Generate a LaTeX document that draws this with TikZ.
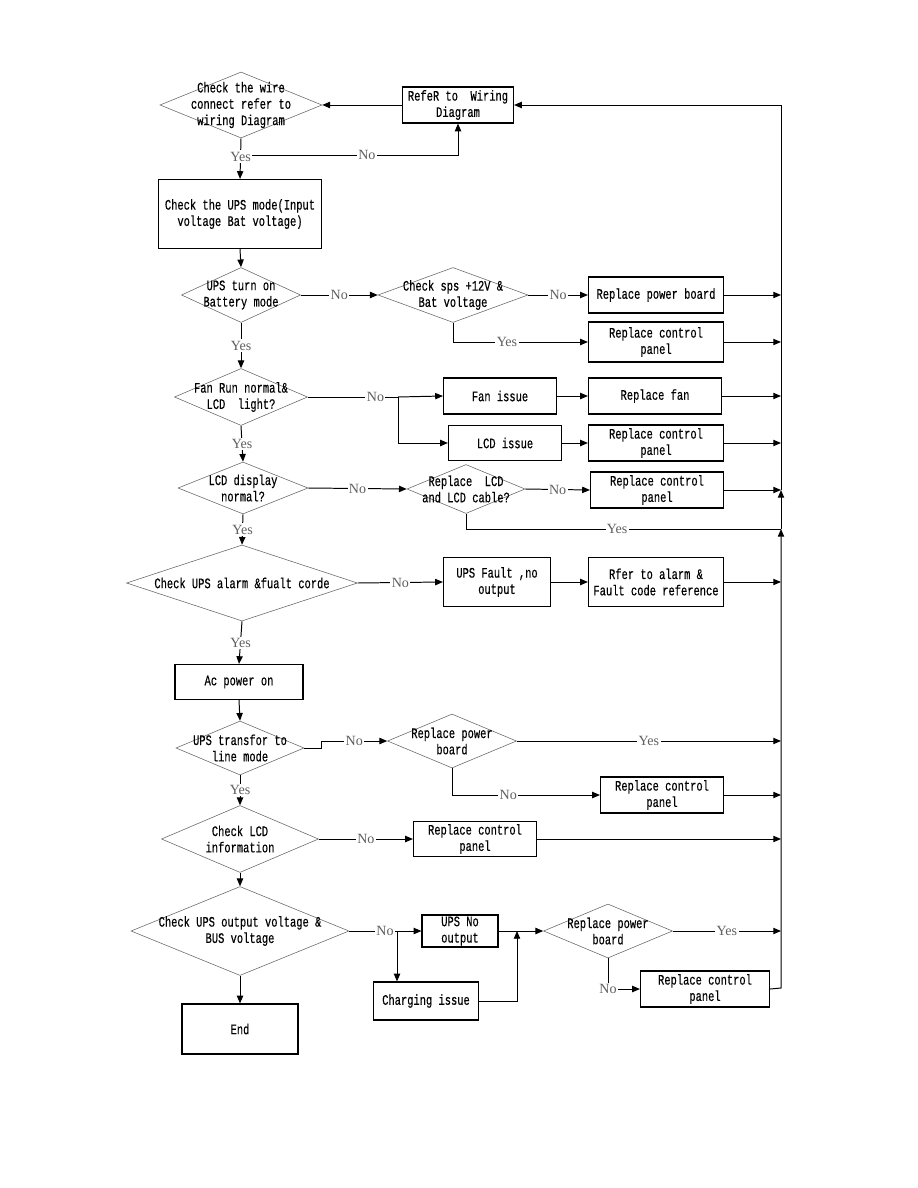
\documentclass[tikz,border=0pt]{standalone}
\usepackage{fontspec}
\setmainfont{Liberation Mono}[FakeStretch=0.72, FakeBold=0.4]
\newfontfamily\ynfont{Liberation Serif}
\usetikzlibrary{shapes.geometric,arrows.meta}
\newcommand{\boxfont}{\fontsize{10.3}{11.6}\selectfont}

\begin{document}
\begin{tikzpicture}[x=0.025cm, y=-0.025cm,
    box/.style 2 args={rectangle, draw, line width=0.8pt, align=center, inner sep=0pt,
                minimum width=#1*0.025cm, minimum height=#2*0.025cm, font=\boxfont},
    dec/.style 2 args={diamond, draw=gray!80!black, line width=0.4pt, inner sep=0pt,
                minimum width=#1*0.025cm, minimum height=#2*0.025cm},
    dtxt/.style={align=center, inner sep=0pt, font=\boxfont},
    arrow/.style={-{Triangle[length=5.5pt,width=4.5pt]}, line width=0.7pt},
    line/.style={line width=0.7pt},
    yn/.style={fill=white, inner sep=1pt, text=gray!75!black, font=\ynfont\fontsize{10}{12}\selectfont}
]
\useasboundingbox (0,0) rectangle (918,1188);

\node[dec={162}{66}, label={[dtxt]center:{Check the wire\\connect refer to\\wiring Diagram}}] (chkwire) at (241,105) {};
\node[box={111}{36}] (wire) at (458,105) {RefeR to\ \ Wiring\\Diagram};
\node[box={163}{69}] (mode) at (240,214) {Check the UPS mode(Input\\voltage Bat voltage)};

\node[dec={119}{55}, label={[dtxt]center:{UPS turn on\\Battery mode}}] (batt) at (241,295) {};
\node[dec={150}{55}, label={[dtxt]center:{Check sps +12V \&\\Bat voltage}}] (sps) at (453,295) {};
\node[box={135}{36}] (pwrA) at (656,295) {Replace power board};
\node[box={135}{40}] (ctlA) at (656,342) {Replace control\\panel};

\node[dec={133}{57}, label={[dtxt]center:{Fan Run normal\&\\LCD\ \ light?}}] (fan) at (241,397) {};
\node[box={113}{36}] (fanis) at (500,396) {Fan issue};
\node[box={113}{35}] (lcdis) at (505,443) {LCD issue};
\node[box={133}{36}] (rfan) at (655,396) {Replace fan};
\node[box={135}{36}] (ctlB) at (656,443) {Replace control\\panel};

\node[dec={130}{52}, label={[dtxt]center:{LCD display\\normal?}}] (lcd) at (243,488) {};
\node[dec={118}{49}, label={[dtxt]center:{Replace\ \ LCD\\and LCD cable?}}] (lcdc) at (466,489) {};
\node[box={133}{36}] (ctlC) at (657,490) {Replace control\\panel};

\node[dec={231}{76}, label={[dtxt]center:{Check UPS alarm \&fualt corde}}] (alarm) at (242,583) {};
\node[box={107}{49}] (fault) at (497,582) {UPS Fault ,no\\output};
\node[box={135}{49}] (code) at (656,582) {Rfer to alarm \&\\Fault code reference};

\node[box={128}{35}] (acon) at (239,682) {Ac power on};

\node[dec={128}{54}, label={[dtxt]center:{UPS transfor to\\line mode}}] (linem) at (240,748) {};
\node[dec={129}{54}, label={[dtxt]center:{Replace power\\board}}] (pwrB) at (452,741) {};
\node[box={123}{36}] (ctlD) at (662,795) {Replace control\\panel};

\node[dec={157}{67}, label={[dtxt]center:{Check LCD\\information}}] (info) at (240,839) {};
\node[box={123}{35}] (ctlE) at (475,839) {Replace control\\panel};

\node[dec={218}{89}, label={[dtxt]center:{Check UPS output voltage \&\\BUS voltage}}] (outv) at (240,931) {};
\node[box={76}{32}] (noout) at (460,931) {UPS No\\output};
\node[box={105}{38}] (charge) at (426,1001) {Charging issue};
\node[dec={129}{54}, label={[dtxt]center:{Replace power\\board}}] (pwrC) at (608,931) {};
\node[box={129}{36}] (ctlF) at (705,989) {Replace control\\panel};
\node[box={116}{50}] (endb) at (240,1029) {End};

\coordinate (wyes) at (241,155);
\coordinate (fansplit) at (398,397);
\coordinate (outsplit) at (397,931);
\coordinate (merge) at (517,931);
\coordinate (bustop) at (781,105);
\coordinate (busbot) at (781,988);
\coordinate (busyes) at (781,529);
\coordinate (buslcd) at (781,490);

\draw[arrow] (wire.west) -- (chkwire.east);
\draw[arrow] (wyes) -- node[yn, pos=0.58]{No} (wyes -| wire.south) -- (wire.south);
\draw[arrow] (chkwire.south) -- node[yn, pos=0.45]{Yes} (mode.north);
\draw[arrow] (mode.south) -- (batt.north);

\draw[arrow] (batt.east) -- node[yn]{No} (sps.west);
\draw[arrow] (sps.east) -- node[yn]{No} (pwrA.west);
\draw[arrow] (sps.south) |- node[yn, pos=0.7]{Yes} (ctlA.west);
\draw[arrow] (batt.south) -- node[yn]{Yes} (fan.north);

\draw[line] (fan.east) -- node[yn, pos=0.75]{No} (fansplit);
\draw[arrow] (fansplit) -- (fanis.west);
\draw[arrow] (fansplit) |- (lcdis.west);
\draw[arrow] (fanis.east) -- (rfan.west);
\draw[arrow] (lcdis.east) -- (ctlB.west);
\draw[arrow] (fan.south) -- node[yn]{Yes} (lcd.north);

\draw[arrow] (lcd.east) -- node[yn]{No} (lcdc.west);
\draw[arrow] (lcdc.east) -- node[yn]{No} (ctlC.west);
\draw[line] (lcdc.south) |- node[yn, pos=0.74]{Yes} (busyes);
\draw[arrow] (lcd.south) -- node[yn]{Yes} (alarm.north);

\draw[arrow] (alarm.east) -- node[yn]{No} (fault.west);
\draw[arrow] (fault.east) -- (code.west);
\draw[arrow] (alarm.south) -- node[yn]{Yes} (acon.north);
\draw[arrow] (acon.south) -- (linem.north);

\draw[arrow] (linem.east) -- ++(17,0) |- node[yn, pos=0.75]{No} (pwrB.west);
\draw[arrow] (pwrB.east) -- node[yn]{Yes} (pwrB.east -| bustop);
\draw[arrow] (pwrB.south) |- node[yn, pos=0.69]{No} (ctlD.west);
\draw[arrow] (linem.south) -- node[yn]{Yes} (info.north);

\draw[arrow] (info.east) -- node[yn]{No} (ctlE.west);
\draw[arrow] (info.south) -- (outv.north);

\draw[line] (outv.east) -- node[yn, pos=0.75]{No} (outsplit);
\draw[arrow] (outsplit) -- (noout.west);
\draw[arrow] (outsplit) -- (outsplit |- charge.north);
\draw[arrow] (noout.east) -- (pwrC.west);
\draw[arrow] (charge.east) -| (merge);
\draw[arrow] (pwrC.east) -- node[yn]{Yes} (pwrC.east -| bustop);
\draw[arrow] (pwrC.south) |- node[yn, pos=0.5]{No} (ctlF.west);
\draw[arrow] (outv.south) -- (endb.north);

\draw[arrow] (pwrA.east) -- (pwrA.east -| bustop);
\draw[arrow] (ctlA.east) -- (ctlA.east -| bustop);
\draw[arrow] (rfan.east) -- (rfan.east -| bustop);
\draw[arrow] (ctlB.east) -- (ctlB.east -| bustop);
\draw[arrow] (ctlC.east) -- (ctlC.east -| bustop);
\draw[arrow] (code.east) -- (code.east -| bustop);
\draw[arrow] (ctlD.east) -- (ctlD.east -| bustop);
\draw[arrow] (ctlE.east) -- (ctlE.east -| bustop);

\draw[arrow] (ctlF.east) -- (busbot) -- (busyes);
\draw[arrow] (busyes) -- (buslcd);
\draw[arrow] (buslcd) -- (bustop) -- (wire.east);
\end{tikzpicture}
\end{document}
